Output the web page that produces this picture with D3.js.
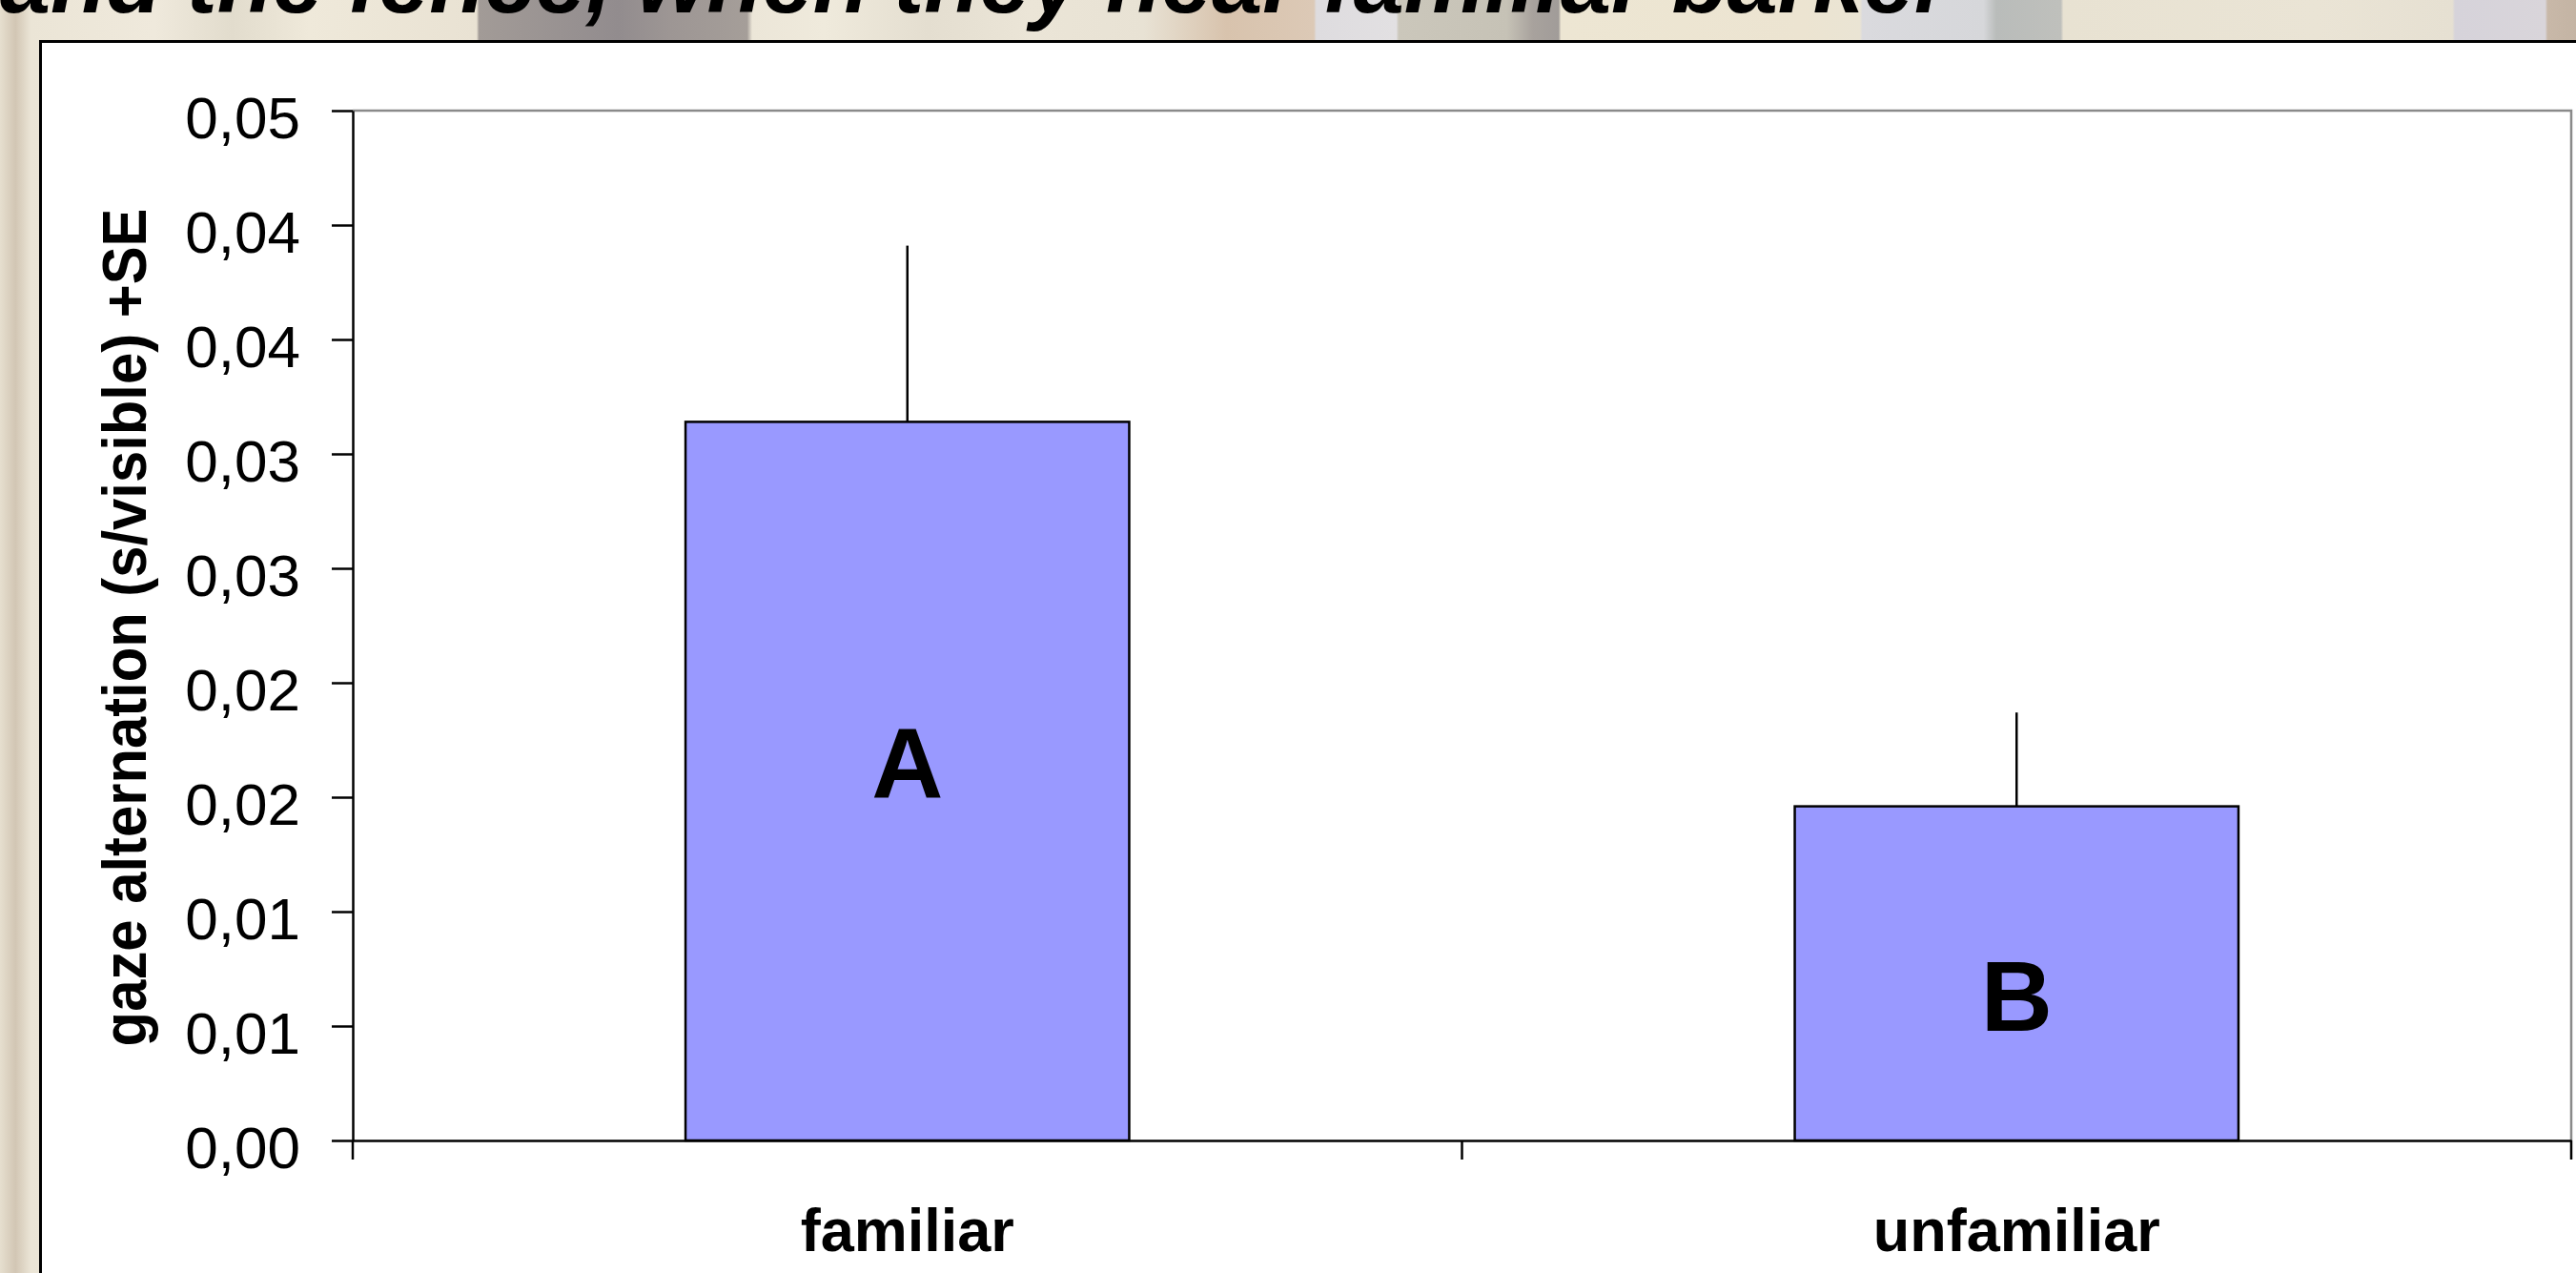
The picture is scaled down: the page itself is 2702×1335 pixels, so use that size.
<!DOCTYPE html>
<html>
<head>
<meta charset="utf-8">
<script src="https://cdn.jsdelivr.net/npm/d3@7"></script>
<style>
  html, body { margin: 0; padding: 0; background: #ffffff; overflow: hidden; }
  svg { display: block; }
</style>
</head>
<body>
<script>
// ---- data ----
const categories = ["familiar", "unfamiliar"];
const means = [0.0314, 0.0146];
const errors = [0.0077, 0.0041];
const groupLetters = ["A", "B"];
const letterLevels = [0.0150, 0.0048];
const tickValues = [0, 0.005, 0.01, 0.015, 0.02, 0.025, 0.03, 0.035, 0.04, 0.045];
const tickLabels = ["0,00", "0,01", "0,01", "0,02", "0,02", "0,03", "0,03", "0,04", "0,04", "0,05"];
const yTitle = "gaze alternation (s/visible) +SE";
const slideTitle = "and the fence, when they hear familiar barker";
// decorative background streak colours (photo texture behind the slide)
const bgStops = [
  [0.000, "#e6dfcf"], [0.006, "#d2c6b4"], [0.012, "#ebe5d6"], [0.060, "#efe9dc"],
  [0.090, "#e2dccd"], [0.120, "#efe9da"], [0.185, "#e9e2d3"], [0.186, "#a29b97"],
  [0.240, "#928c8e"], [0.260, "#9d9694"], [0.290, "#a59e99"], [0.292, "#ece6d8"],
  [0.320, "#efeadc"], [0.360, "#e4ded0"], [0.400, "#ebe5d7"], [0.444, "#e8e2d4"],
  [0.476, "#d8c3ad"], [0.510, "#dcc9b6"], [0.511, "#dedcdf"], [0.542, "#e2e0e2"],
  [0.543, "#cbc7bb"], [0.585, "#c6c2b6"], [0.595, "#a8a29d"], [0.605, "#a19c99"],
  [0.606, "#ede6d3"], [0.700, "#ece4d1"], [0.722, "#eae4d4"], [0.723, "#dadade"],
  [0.770, "#d6d7da"], [0.775, "#b9bcba"], [0.800, "#bfc0bc"], [0.801, "#e8e2d2"],
  [0.900, "#eae4d5"], [0.952, "#e6e0d2"], [0.953, "#d6d3da"], [0.988, "#d9d5da"],
  [0.989, "#c8b8a8"], [1.000, "#c4b4a4"]
];

// ---- layout ----
const W = 2702, H = 1335;
const plot = { left: 370, right: 2697, top: 116, bottom: 1196 };
const font = "'Liberation Sans', Arial, Helvetica, sans-serif";

const svg = d3.select("body").append("svg")
  .attr("width", W).attr("height", H)
  .attr("viewBox", `0 0 ${W} ${H}`);

// background texture
const defs = svg.append("defs");
const grad = defs.append("linearGradient").attr("id", "bgGrad")
  .attr("x1", "0").attr("x2", "1").attr("y1", "0").attr("y2", "0");
grad.selectAll("stop").data(bgStops).join("stop")
  .attr("offset", d => d[0]).attr("stop-color", d => d[1]);
svg.append("rect").attr("x", 0).attr("y", 0).attr("width", W).attr("height", H)
  .attr("fill", "url(#bgGrad)");

// slide title (cut off by the top edge, as in the source slide)
svg.append("text")
  .attr("x", 0).attr("y", 13)
  .attr("textLength", 2045).attr("lengthAdjust", "spacingAndGlyphs")
  .style("font-family", font).style("font-weight", "bold").style("font-style", "italic")
  .style("font-size", "95px").attr("fill", "#000")
  .text(slideTitle);

// white chart box with black border
svg.append("rect")
  .attr("x", 42.5).attr("y", 43.5).attr("width", W).attr("height", H)
  .attr("fill", "#ffffff").attr("stroke", "#000").attr("stroke-width", 3);

// scales
const y = d3.scaleLinear().domain([0, 0.045]).range([plot.bottom, plot.top]);
const x = d3.scaleBand().domain(categories).range([plot.left, plot.right])
  .paddingInner(0.6).paddingOuter(0.3);

// plot area frame (grey top & right)
svg.append("path")
  .attr("d", `M${plot.left},${y(0.045)}H${plot.right}V${y(0)}`)
  .attr("fill", "none").attr("stroke", "#8a8a8a").attr("stroke-width", 2.5);

// bars
const rows = categories.map((c, i) => ({ c, m: means[i], e: errors[i], l: groupLetters[i], ly: letterLevels[i] }));

svg.append("g").selectAll("rect").data(rows).join("rect")
  .attr("x", d => x(d.c)).attr("width", x.bandwidth())
  .attr("y", d => y(d.m)).attr("height", d => y(0) - y(d.m))
  .attr("fill", "#9999ff").attr("stroke", "#000").attr("stroke-width", 2.5);

// error bars (+SE only)
svg.append("g").selectAll("line").data(rows).join("line")
  .attr("x1", d => x(d.c) + x.bandwidth() / 2).attr("x2", d => x(d.c) + x.bandwidth() / 2)
  .attr("y1", d => y(d.m)).attr("y2", d => y(d.m + d.e))
  .attr("stroke", "#000").attr("stroke-width", 2.5);

// group letters
svg.append("g").selectAll("text").data(rows).join("text")
  .attr("x", d => x(d.c) + x.bandwidth() / 2).attr("y", d => y(d.ly))
  .attr("text-anchor", "middle")
  .style("font-family", font).style("font-weight", "bold").style("font-size", "104px")
  .attr("fill", "#000").text(d => d.l);

// y axis
const yAxis = svg.append("g").attr("transform", `translate(${plot.left},0)`)
  .call(d3.axisLeft(y).tickValues(tickValues)
    .tickFormat((d, i) => tickLabels[i]).tickSize(22).tickSizeOuter(0).tickPadding(33));
yAxis.select(".domain").attr("stroke", "#000").attr("stroke-width", 2.5);
yAxis.selectAll(".tick line").attr("stroke", "#000").attr("stroke-width", 2.5);
yAxis.selectAll(".tick text")
  .attr("dy", "0.46em")
  .style("font-family", font).style("font-size", "62px").attr("fill", "#000");

// x axis
const xAxis = svg.append("g").attr("transform", `translate(0,${y(0)})`)
  .call(d3.axisBottom(x).tickSize(0).tickSizeOuter(0).tickPadding(71));
xAxis.select(".domain").attr("stroke", "#000").attr("stroke-width", 2.5);
xAxis.selectAll(".tick text")
  .style("font-family", font).style("font-weight", "bold").style("font-size", "63px")
  .attr("fill", "#000");

// category boundary ticks
const bounds = d3.range(categories.length + 1).map(i => plot.left + i * x.step());
xAxis.selectAll("line.bound").data(bounds).join("line").attr("class", "bound")
  .attr("x1", d => d).attr("x2", d => d).attr("y1", 0).attr("y2", 20)
  .attr("stroke", "#000").attr("stroke-width", 2.5);

// y axis title
svg.append("text")
  .attr("transform", `translate(153,${(plot.top + plot.bottom) / 2 + 2}) rotate(-90) scale(0.92,1)`)
  .attr("text-anchor", "middle")
  .style("font-family", font).style("font-weight", "bold").style("font-size", "65px")
  .attr("fill", "#000")
  .text(yTitle);
</script>
</body>
</html>
